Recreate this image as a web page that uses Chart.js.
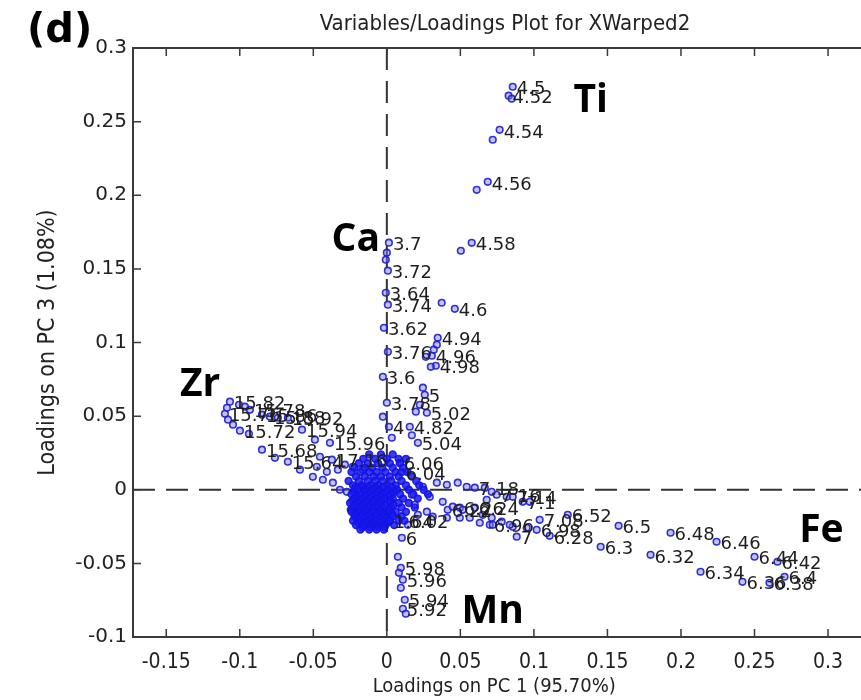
<!DOCTYPE html>
<html><head><meta charset="utf-8">
<script src="https://cdn.jsdelivr.net/npm/chart.js@4/dist/chart.umd.min.js"></script>
<style>html,body{margin:0;padding:0;background:#fff;}canvas{display:block;}</style>
</head><body>
<canvas id="c" width="861" height="700"></canvas>
<script>
// ---- tick labels ----
const xTickValues = [-0.15,-0.1,-0.05,0,0.05,0.1,0.15,0.2,0.25,0.3];
const yTickValues = [-0.1,-0.05,0,0.05,0.1,0.15,0.2,0.25,0.3];

// ---- Ti branch ----
const tiX = [0.0856,0.0828,0.0849,0.0767,0.0720,0.0686,0.0611,0.0577,0.0503,0.0373,0.0462,0.0346,0.0340,0.0319,0.0306,0.0265,0.0333,0.0299,0.0245,0.0258,0.0224,0.0197,0.0272,0.0156,0.0211,0.0170,0.0088];
const tiY = [0.2737,0.2676,0.2656,0.2444,0.2377,0.2091,0.2037,0.1677,0.1623,0.1270,0.1229,0.1032,0.0985,0.0951,0.0910,0.0903,0.0842,0.0835,0.0693,0.0645,0.0577,0.0530,0.0523,0.0428,0.0319,0.0370,0.0183];
const tiLab = ["4.5","4.52","","4.54","","4.56","","4.58","","","4.6","4.94","","","4.96","","4.98","","","5","","","5.02","4.82","5.04","","6.06"];

// ---- Ca branch ----
const caX = [0.0014,0.0000,-0.0007,0.0007,-0.0007,0.0007,-0.0020,0.0007,-0.0027,0.0000,-0.0027,0.0014,0.0034];
const caY = [0.1678,0.1610,0.1562,0.1488,0.1338,0.1257,0.1100,0.0937,0.0767,0.0591,0.0496,0.0428,0.0353];
const caLab = ["3.7","","","3.72","3.64","3.74","3.62","3.76","3.6","3.78","","4",""];

// ---- Zr branch ----
const zrX = [-0.1067,-0.1087,-0.1101,-0.1080,-0.1046,-0.0999,-0.0938,-0.1005,-0.0965,-0.0931,-0.0849,-0.0795,-0.0741,-0.0673,-0.0577,-0.0489,-0.0387,-0.0849,-0.0761,-0.0673,-0.0591,-0.0503,-0.0455,-0.0374,-0.0476,-0.0435,-0.0367,-0.0319,-0.0272,-0.0408,-0.0333,-0.0285,-0.0231,-0.0163];
const zrY = [0.0598,0.0557,0.0516,0.0476,0.0442,0.0401,0.0380,0.0577,0.0564,0.0543,0.0510,0.0496,0.0489,0.0489,0.0408,0.0340,0.0319,0.0272,0.0217,0.0190,0.0136,0.0088,0.0224,0.0204,0.0156,0.0068,0.0048,0.0000,-0.0014,0.0122,0.0136,0.0170,0.0156,0.0136];
const zrLab = ["15.82","","15.76","","","15.72","","","","15.78","15.86","15.88","","15.92","15.94","","15.96","15.68","","15.64","","","","17.16","","","","","","","","","",""];

// ---- Fe branch ----
const feX = [0.1230,0.1576,0.1929,0.2242,0.2500,0.2656,0.2704,0.2602,0.2418,0.2133,0.1793,0.1454,0.1107,0.1039,0.0883,0.0856,0.1019,0.0924,0.0856,0.0747,0.0679,0.0598,0.0598,0.0496,0.0414,0.0700,
  0.0245,0.0340,0.0408,0.0482,0.0543,0.0666,0.0713,0.0815,0.0971,0.0292,0.0380,0.0448,0.0516,0.0652,0.0713,0.0781,0.0836,0.0951,0.0272,0.0312,0.0408,0.0496,0.0564,0.0632,0.0720,0.0170,0.0190,0.0211,0.0143];
const feY = [-0.0170,-0.0245,-0.0292,-0.0353,-0.0455,-0.0489,-0.0591,-0.0632,-0.0625,-0.0557,-0.0442,-0.0387,-0.0313,-0.0204,-0.0319,-0.0251,-0.0272,-0.0082,-0.0048,-0.0034,-0.0068,0.0014,-0.0122,-0.0122,-0.0136,-0.0238,
  0.0020,0.0048,0.0034,0.0048,0.0020,0.0014,-0.0014,-0.0048,-0.0082,-0.0048,-0.0082,-0.0115,-0.0136,-0.0170,-0.0190,-0.0217,-0.0238,-0.0258,-0.0149,-0.0183,-0.0190,-0.0190,-0.0190,-0.0224,-0.0238,-0.0034,-0.0102,-0.0170,-0.0238];
const feLab = ["6.52","6.5","6.48","6.46","6.44","6.42","6.4","6.38","6.36","6.34","6.32","6.3","6.28","7.08","7","","6.98","7.1","7.14","7.16","","7.18","6.24","6.26","6.22","6.96",
  "","","","","","","","","","","","","","","","","","","","","","","","","","","","",""];

// ---- Mn branch ----
const mnX = [0.0102,0.0075,0.0095,0.0082,0.0109,0.0095,0.0122,0.0109,0.0129];
const mnY = [-0.0326,-0.0455,-0.0530,-0.0564,-0.0611,-0.0666,-0.0747,-0.0808,-0.0842];
const mnLab = ["6","","5.98","","5.96","","5.94","5.92",""];

// ---- dense core near origin (rows of y, x values per row) ----
const coreRowY = [0.024,0.021,0.018,0.015,0.012,0.009,0.006,0.003,0.0015,0.000,-0.0015,-0.003,-0.0045,-0.006,-0.0075,-0.009,-0.0105,-0.012,-0.0135,-0.015,-0.0165,-0.018,-0.0195,-0.021,-0.0225,-0.024,-0.0255,-0.027];
const coreRowX = [
  [-0.012,-0.004,0.004],
  [-0.016,-0.008,0.000,0.008,0.013],
  [-0.019,-0.013,-0.006,0.002,0.009],
  [-0.022,-0.015,-0.010,-0.003,0.004,0.011],
  [-0.024,-0.018,-0.012,-0.007,-0.001,0.006,0.014],
  [-0.021,-0.015,-0.009,-0.004,0.002,0.008,0.017],
  [-0.026,-0.019,-0.013,-0.008,-0.003,0.003,0.010,0.020],
  [-0.023,-0.017,-0.011,-0.006,0.000,0.006,0.013,0.022],
  [-0.0215,-0.0165,-0.0125,-0.0075,-0.0025,0.0035],
  [-0.020,-0.015,-0.010,-0.005,0.001,0.007,0.015,0.025],
  [-0.0225,-0.0155,-0.0105,-0.0055,-0.0005,0.005],
  [-0.024,-0.018,-0.013,-0.008,-0.003,0.003,0.009,0.018,0.028],
  [-0.0205,-0.0145,-0.0095,-0.0045,0.0015],
  [-0.022,-0.017,-0.012,-0.007,-0.002,0.004,0.011,0.021],
  [-0.0235,-0.0185,-0.0135,-0.0085,-0.0035,0.0025],
  [-0.025,-0.019,-0.014,-0.009,-0.004,0.002,0.008,0.015],
  [-0.0215,-0.0165,-0.0115,-0.0065,-0.0015,0.0045],
  [-0.023,-0.018,-0.013,-0.008,-0.003,0.003,0.010,0.019],
  [-0.0245,-0.0195,-0.0145,-0.0095,-0.0045,0.0015],
  [-0.024,-0.019,-0.014,-0.009,-0.004,0.001,0.006,0.013],
  [-0.0215,-0.0165,-0.0115,-0.0065,-0.0015,0.0035],
  [-0.022,-0.017,-0.012,-0.007,-0.002,0.004,0.010],
  [-0.0205,-0.0155,-0.0105,-0.0055,-0.0005],
  [-0.023,-0.018,-0.013,-0.008,-0.003,0.002,0.008],
  [-0.0195,-0.0145,-0.0095,-0.0045,0.0005],
  [-0.021,-0.016,-0.011,-0.006,-0.001,0.005],
  [-0.0165,-0.0115,-0.0065,-0.0015],
  [-0.018,-0.012,-0.007,-0.002]
];
const coreLabX = [0.002,0.012,0.010];
const coreLabY = [-0.021,-0.021,0.012];
const coreLab = ["1.64","6.02","6.04"];

// ---- element annotations ----
const elementNames = ["Ti","Ca","Zr","Fe","Mn"];
const elementX = [0.1386,-0.0211,-0.1270,0.2955,0.0720];
const elementY = [0.2643,0.1698,0.0713,-0.0279,-0.0829];

const titleText = "Variables/Loadings Plot for XWarped2";
const panelTag = "(d)";
const xTitle = "Loadings on PC 1 (95.70%)";
const yTitle = "Loadings on PC 3 (1.08%)";

// ---- build datasets ----
const ptStyle = {
  showLine:false, pointRadius:3.3, pointBorderWidth:1.6,
  pointBorderColor:'rgba(30,30,205,0.9)', pointBackgroundColor:'rgba(120,120,235,0.45)'
};
const coreStyle = {
  showLine:false, pointRadius:3.4, pointBorderWidth:1.6,
  pointBorderColor:'rgba(20,20,225,0.9)', pointBackgroundColor:'rgba(25,25,245,0.85)'
};
function mk(xs, ys, labs, style){
  return Object.assign({data: xs.map((x,i)=>({x:x, y:ys[i]})), varLabels: labs}, style || ptStyle);
}
const coreXs = [], coreYs = [];
coreRowY.forEach((y,r)=>coreRowX[r].forEach(x=>{coreXs.push(x); coreYs.push(y);}));
coreLabX.forEach((x,i)=>{coreXs.push(x); coreYs.push(coreLabY[i]);});
const coreLabs = coreXs.map((x,i)=> i >= coreXs.length-coreLab.length ? coreLab[i-(coreXs.length-coreLab.length)] : "");

const datasets = [
  mk(coreXs, coreYs, coreLabs, coreStyle),
  mk(zrX, zrY, zrLab),
  mk(caX, caY, caLab),
  mk(tiX, tiY, tiLab),
  mk(feX, feY, feLab),
  mk(mnX, mnY, mnLab)
];

const FRAME = '#3a3a3a';
const framePlugin = {
  id:'frame',
  beforeDatasetsDraw(chart){
    const {ctx, chartArea:a, scales:{x,y}} = chart;
    const W = chart.width;
    ctx.save();
    ctx.strokeStyle = '#333'; ctx.lineWidth = 2; ctx.setLineDash([22,11]);
    const x0 = x.getPixelForValue(0), y0 = y.getPixelForValue(0);
    ctx.beginPath(); ctx.moveTo(x0, a.top); ctx.lineTo(x0, a.bottom); ctx.stroke();
    ctx.beginPath(); ctx.moveTo(a.left, y0); ctx.lineTo(W, y0); ctx.stroke();
    ctx.setLineDash([]);
    ctx.strokeStyle = FRAME; ctx.lineWidth = 2;
    ctx.beginPath();
    ctx.moveTo(W, a.top); ctx.lineTo(a.left, a.top); ctx.lineTo(a.left, a.bottom); ctx.lineTo(W, a.bottom);
    ctx.stroke();
    ctx.lineWidth = 1.5;
    ctx.beginPath();
    xTickValues.forEach(v=>{const p=x.getPixelForValue(v);
      ctx.moveTo(p,a.bottom); ctx.lineTo(p,a.bottom-8);
      ctx.moveTo(p,a.top); ctx.lineTo(p,a.top+8);});
    yTickValues.forEach(v=>{const p=y.getPixelForValue(v);
      ctx.moveTo(a.left,p); ctx.lineTo(a.left+8,p);});
    ctx.stroke();
    ctx.restore();
  },
  afterDatasetsDraw(chart){
    const {ctx, scales:{x,y}} = chart;
    ctx.save();
    ctx.fillStyle = '#1e1e1e';
    ctx.font = '18px "DejaVu Sans", sans-serif';
    ctx.textAlign = 'left'; ctx.textBaseline = 'middle';
    chart.data.datasets.forEach((ds,i)=>{
      const meta = chart.getDatasetMeta(i);
      meta.data.forEach((el,j)=>{
        const t = ds.varLabels[j];
        if (t) ctx.fillText(t, el.x+4, el.y+3);
      });
    });
    ctx.fillStyle = '#000';
    ctx.font = 'bold 39px "Open Sans", "Liberation Sans", sans-serif';
    ctx.textAlign = 'center';
    elementNames.forEach((n,i)=>{
      ctx.fillText(n, x.getPixelForValue(elementX[i]), y.getPixelForValue(elementY[i]));
    });
    ctx.font = '22px "DejaVu Sans Condensed", "Liberation Sans Narrow", sans-serif';
    ctx.fillStyle = '#222';
    ctx.fillText(titleText, 505, 24);
    ctx.font = 'bold 40px "DejaVu Sans", sans-serif';
    ctx.fillStyle = '#000';
    ctx.textAlign = 'left';
    ctx.fillText(panelTag, 27, 32);
    ctx.restore();
  }
};

const fmt = v => String(+Number(v).toFixed(2));
const condensed = '"DejaVu Sans Condensed", "Liberation Sans Narrow", sans-serif';

new Chart(document.getElementById('c'), {
  type:'scatter',
  data:{datasets},
  options:{
    responsive:false, animation:false, devicePixelRatio:1,
    layout:{padding:{top:48,left:0,right:0,bottom:0}},
    plugins:{legend:{display:false}, tooltip:{enabled:false}},
    scales:{
      x:{type:'linear', min:-0.1726, max:0.3186,
        afterBuildTicks:s=>{s.ticks = xTickValues.map(v=>({value:v}));},
        afterFit:s=>{s.height = 63; s.paddingLeft = 0; s.paddingRight = 0;},
        grid:{display:false, drawTicks:false}, border:{display:false},
        ticks:{padding:13, color:'#222', font:{family:condensed, size:21}, callback:fmt, maxRotation:0, autoSkip:false},
        title:{display:true, text:xTitle, color:'#222', font:{family:condensed, size:20}, padding:{top:0,bottom:1}}
      },
      y:{type:'linear', min:-0.1, max:0.3,
        afterBuildTicks:s=>{s.ticks = yTickValues.map(v=>({value:v}));},
        afterFit:s=>{s.width = 133; s.paddingTop = 0; s.paddingBottom = 0;},
        grid:{display:false, drawTicks:false}, border:{display:false},
        ticks:{padding:6, color:'#222', font:{family:'"DejaVu Sans", sans-serif', size:20}, callback:fmt, autoSkip:false},
        title:{display:true, text:yTitle, color:'#222', font:{family:condensed, size:23}, padding:{top:34,bottom:0}}
      }
    }
  },
  plugins:[framePlugin]
});
</script>
</body></html>
